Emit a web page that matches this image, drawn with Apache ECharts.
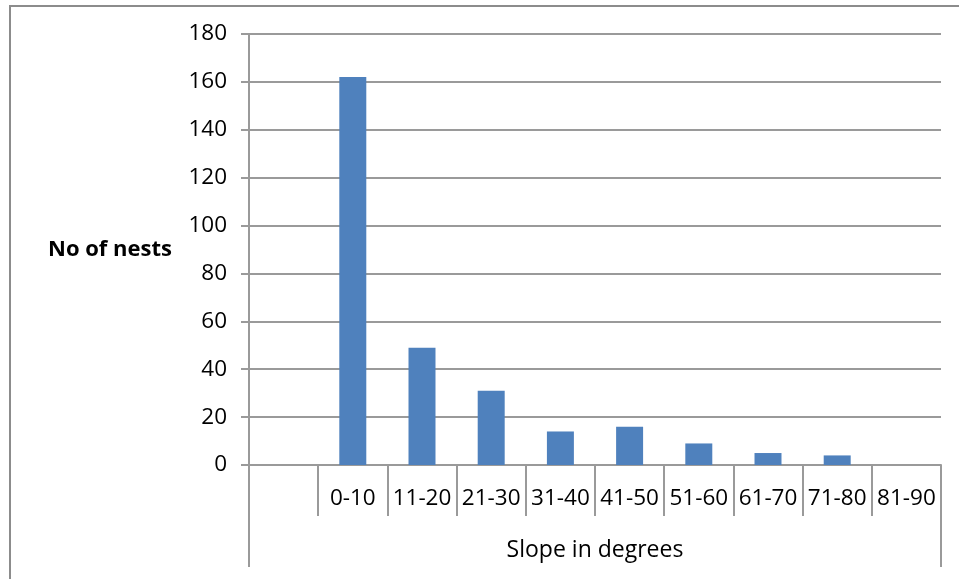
<!DOCTYPE html>
<html>
<head>
<meta charset="utf-8">
<script src="https://cdn.jsdelivr.net/npm/echarts@6/dist/echarts.min.js"></script>
<style>
html,body{margin:0;padding:0;background:#fff;}
#frame{position:absolute;left:9px;top:5px;width:960px;height:600px;border-left:2px solid #8c8c8c;border-top:2px solid #8c8c8c;box-sizing:border-box;}
#chart{position:absolute;left:0;top:0;width:959px;height:579px;}
</style>
</head>
<body>
<div id="frame"></div>
<div id="chart"></div>
<script>
const categories = ['', '0-10', '11-20', '21-30', '31-40', '41-50', '51-60', '61-70', '71-80', '81-90'];
const nests = [null, 162, 49, 31, 14, 16, 9, 5, 4, 0];
const groupLabel = ['Slope in degrees'];
const yTitle = 'No of nests';

const FONT = 'Open Sans';
const GRAY = '#9a9a9a';

const chart = echarts.init(document.getElementById('chart'), null, {renderer: 'canvas'});
chart.setOption({
  backgroundColor: 'transparent',
  animation: false,
  grid: {left: 249, right: 18, top: 34, bottom: 114, containLabel: false},
  xAxis: [
    {
      type: 'category',
      data: categories,
      position: 'bottom',
      boundaryGap: true,
      axisLine: {show: true, lineStyle: {color: GRAY, width: 2}},
      axisTick: {show: true, length: 51, interval: 0, lineStyle: {color: GRAY, width: 2}},
      axisLabel: {interval: 0, margin: 22, color: '#000', fontFamily: FONT, fontSize: 22.5}
    },
    {
      type: 'category',
      data: groupLabel,
      position: 'bottom',
      boundaryGap: true,
      axisLine: {show: false},
      axisTick: {show: true, length: 102, interval: 0, lineStyle: {color: GRAY, width: 2}},
      axisLabel: {interval: 0, margin: 74, color: '#000', fontFamily: FONT, fontSize: 23}
    }
  ],
  yAxis: {
    type: 'value',
    min: 0,
    max: 180,
    interval: 20,
    name: yTitle,
    nameLocation: 'middle',
    nameRotate: 0,
    nameGap: 139,
    nameTextStyle: {align: 'center', verticalAlign: 'middle', color: '#000', fontFamily: FONT, fontSize: 22, fontWeight: 'bold'},
    axisLine: {show: true, lineStyle: {color: GRAY, width: 2}},
    axisTick: {show: true, length: 8, lineStyle: {color: GRAY, width: 2}},
    axisLabel: {margin: 22, color: '#000', fontFamily: FONT, fontSize: 22.5},
    splitLine: {show: true, lineStyle: {color: GRAY, width: 2}}
  },
  series: [{
    type: 'bar',
    xAxisIndex: 0,
    data: nests,
    barWidth: '39%',
    itemStyle: {color: '#4F81BD'}
  }]
});
</script>
</body>
</html>
